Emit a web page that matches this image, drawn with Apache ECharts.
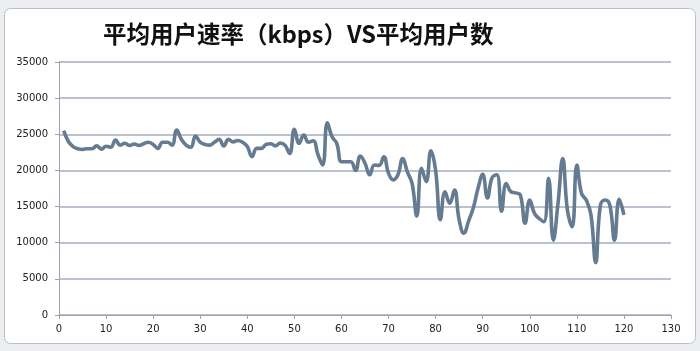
<!DOCTYPE html>
<html>
<head>
<meta charset="utf-8">
<script src="https://cdn.jsdelivr.net/npm/echarts@6/dist/echarts.min.js"></script>
<style>
  html, body { margin: 0; padding: 0; background: #eceef1; }
  #chart { width: 700px; height: 351px; }
</style>
</head>
<body>
<div id="chart"></div>
<script>
// 样本序号
var samples = [
    1, 2, 3, 4, 5, 6, 7, 8, 9, 10, 11, 12, 13, 14, 15, 16, 17, 18, 19, 20,
    21, 22, 23, 24, 25, 26, 27, 28, 29, 30, 31, 32, 33, 34, 35, 36, 37, 38, 39, 40,
    41, 42, 43, 44, 45, 46, 47, 48, 49, 50, 51, 52, 53, 54, 55, 56, 57, 58, 59, 60,
    61, 62, 63, 64, 65, 66, 67, 68, 69, 70, 71, 72, 73, 74, 75, 76, 77, 78, 79, 80,
    81, 82, 83, 84, 85, 86, 87, 88, 89, 90, 91, 92, 93, 94, 95, 96, 97, 98, 99, 100,
    101, 102, 103, 104, 105, 106, 107, 108, 109, 110, 111, 112, 113, 114, 115, 116, 117, 118, 119, 120
];
// 平均用户速率 (kbps)
var rates = [
    25500, 24000, 23300, 23000, 22900, 23000, 23000, 23400, 22950, 23350,
    23200, 24200, 23500, 23750, 23450, 23650, 23450, 23700, 23900, 23600,
    23050, 23900, 23900, 23500, 25600, 24300, 23500, 23200, 24750, 23900,
    23600, 23500, 23900, 24300, 23400, 24300, 23950, 24150, 23900, 23300,
    21900, 23050, 23050, 23600, 23700, 23400, 23800, 23500, 22350, 25700,
    23750, 24900, 23900, 24100, 22200, 20750, 26600, 24650, 23750, 21200,
    21200, 21200, 20000, 22000, 21000, 19400, 20750, 20700, 21900, 19600,
    18700, 19400, 21650, 19800, 18200, 13700, 20300, 18450, 22700, 20000,
    13200, 17050, 15450, 17300, 13150, 11300, 13000, 14800, 17500, 19450,
    16200, 19000, 19400, 14350, 18200, 17050, 16900, 16600, 12700, 15900,
    14050, 13350, 12900, 18900, 10350, 15450, 21650, 14500, 12200, 20750,
    16800, 15900, 13850, 7250, 15200, 15900, 15200, 10350, 16000, 13850
];
var titleText = '平均用户速率（kbps）VS平均用户数';

var myChart = echarts.init(document.getElementById('chart'));

var seriesData = [];
for (var i = 0; i < samples.length; i++) {
    seriesData.push([samples[i], rates[i]]);
}

var option = {
    animation: false,
    backgroundColor: '#eceef1',
    graphic: [{
        type: 'rect',
        shape: { x: 4.5, y: 8.5, width: 691, height: 335, r: 6 },
        style: { fill: '#ffffff', stroke: '#b9c0c8', lineWidth: 1 },
        z: -10
    }],
    title: {
        text: titleText,
        left: 98,
        top: 17,
        textStyle: {
            fontFamily: 'Noto Sans CJK SC',
            fontSize: 23.5,
            fontWeight: 'bold',
            color: '#111111'
        }
    },
    grid: {
        left: 59,
        right: 29,
        top: 62,
        bottom: 36
    },
    xAxis: {
        type: 'value',
        min: 0,
        max: 130,
        interval: 10,
        axisLine: { lineStyle: { color: '#9aa3ad', width: 1 } },
        axisTick: { show: true, length: 4, lineStyle: { color: '#9aa3ad' } },
        axisLabel: { color: '#222222', fontFamily: 'DejaVu Sans', fontSize: 10, margin: 9 },
        splitLine: { show: false }
    },
    yAxis: {
        type: 'value',
        min: 0,
        max: 35000,
        interval: 5000,
        axisLine: { show: true, lineStyle: { color: '#9aa3ad', width: 1 } },
        axisTick: { show: true, length: 4, lineStyle: { color: '#9aa3ad' } },
        axisLabel: {
            color: '#222222',
            fontFamily: 'DejaVu Sans',
            fontSize: 10,
            margin: 11,
            formatter: function(v) { return String(v); }
        },
        splitLine: { show: true, lineStyle: { color: '#a3afbd', width: 1.6 } }
    },
    series: [{
        name: '平均用户速率',
        type: 'line',
        data: seriesData,
        smooth: 0.45,
        showSymbol: false,
        lineStyle: { color: '#657b92', width: 3.6 }
    }]
};

myChart.setOption(option);
</script>
</body>
</html>
